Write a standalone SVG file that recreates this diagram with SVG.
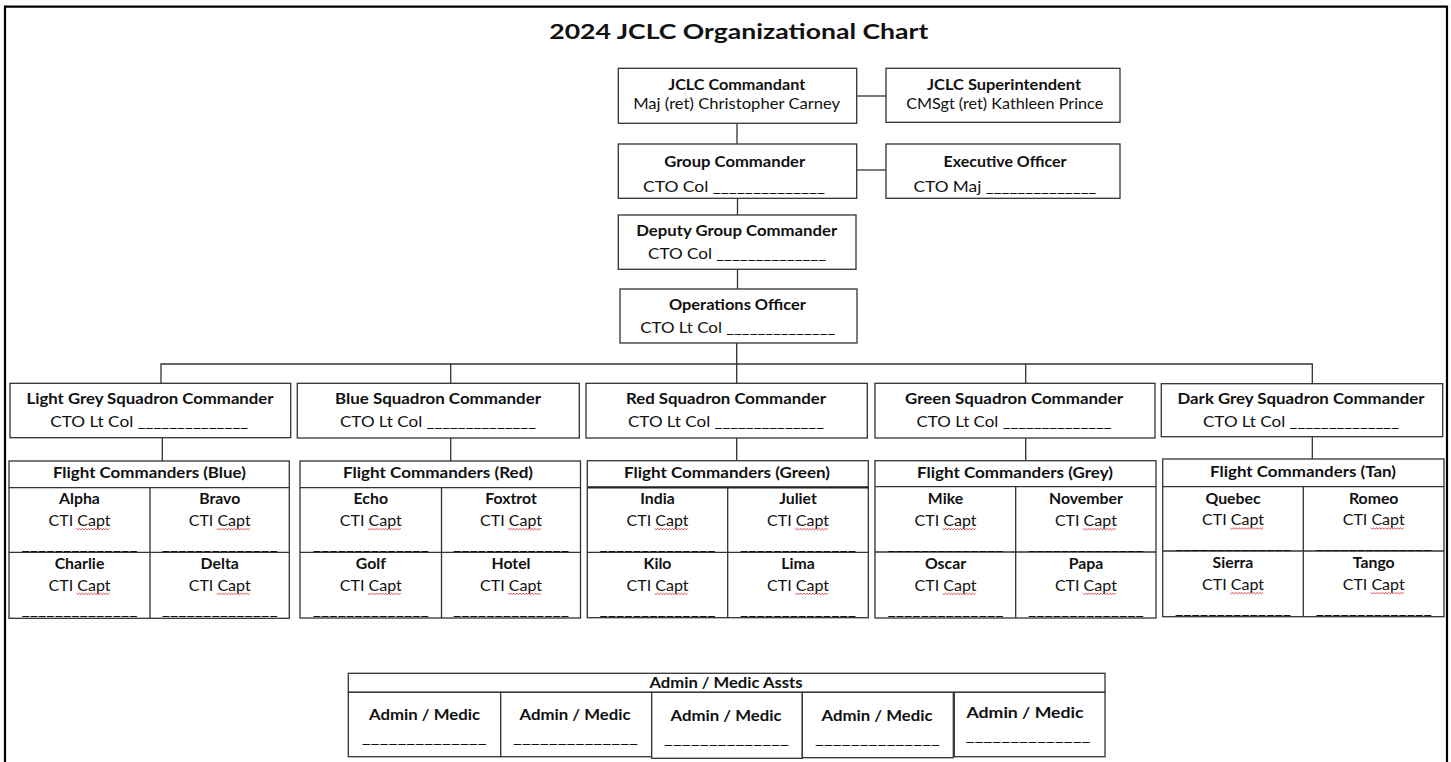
<svg xmlns="http://www.w3.org/2000/svg" xmlns:xlink="http://www.w3.org/1999/xlink" width="1451" height="762" viewBox="0 0 1451 762">
<style>
.bx{fill:#fff;stroke:#333;stroke-width:1.3}
.ln{fill:none;stroke:#333;stroke-width:1.3}
.cn{fill:none;stroke:#333;stroke-width:1.3}
.t{font-family:Lato,"Open Sans","Liberation Sans",sans-serif;font-size:15.8px;fill:#111;text-anchor:middle}
.b{font-weight:700}
.ttl{font-family:Lato,"Open Sans","Liberation Sans",sans-serif;font-size:21.5px;font-weight:700;fill:#111;text-anchor:middle}
.sq{fill:none;stroke:#e03a3a;stroke-width:0.9}
</style>
<defs>
<path id="sq" class="sq" d="M0,0 l1.5,1.3 l1.5,-1.3 l1.5,1.3 l1.5,-1.3 l1.5,1.3 l1.5,-1.3 l1.5,1.3 l1.5,-1.3 l1.5,1.3 l1.5,-1.3 l1.5,1.3 l1.5,-1.3 l1.5,1.3 l1.5,-1.3 l1.5,1.3 l1.5,-1.3 l1.5,1.3 l1.5,-1.3 l1.5,1.3 l1.5,-1.3 l1.5,1.3 l1.5,-1.3"/>
</defs>
<rect x="0" y="0" width="1451" height="762" fill="#fff"/>
<path d="M5,762 V6.7 H1447 V762" fill="none" stroke="#000" stroke-width="2.2"/>
<text class="ttl" x="738.8" y="39" textLength="379" lengthAdjust="spacingAndGlyphs">2024 JCLC Organizational Chart</text>

<g id="connectors">
<path class="cn" d="M857,96 H886"/>
<path class="cn" d="M857,170 H886"/>
<path class="cn" d="M737,123 V144 M737.5,198 V215 M737.5,269 V289 M736.7,343 V383.3"/>
<path class="cn" d="M161,383.3 V364 H1312.3 V383.7 M450.7,364 V383 M1025.7,364 V383"/>
<path class="cn" d="M162.3,437.7 V461 M450.7,438 V461 M736.7,438 V460.7 M1025.7,438 V460.7 M1312.3,436.7 V459"/>
</g>

<g id="commandant">
<rect class="bx" x="618.3" y="68.3" width="238.4" height="55"/>
<text class="t b" x="736.7" y="90" textLength="137" lengthAdjust="spacingAndGlyphs">JCLC Commandant</text>
<text class="t" x="736.7" y="109" textLength="207" lengthAdjust="spacingAndGlyphs">Maj (ret) Christopher Carney</text>
</g>
<g id="superintendent">
<rect class="bx" x="886" y="68.3" width="234" height="54"/>
<text class="t b" x="1004" y="90" textLength="154" lengthAdjust="spacingAndGlyphs">JCLC Superintendent</text>
<text class="t" x="1004.7" y="109" textLength="197" lengthAdjust="spacingAndGlyphs">CMSgt (ret) Kathleen Prince</text>
</g>
<g id="group-commander">
<rect class="bx" x="618.3" y="144" width="238.4" height="54.3"/>
<text class="t b" x="734.7" y="166.5" textLength="141" lengthAdjust="spacingAndGlyphs">Group Commander</text>
<text class="t" x="734" y="191.5" textLength="182" lengthAdjust="spacingAndGlyphs">CTO Col ______________</text>
</g>
<g id="executive-officer">
<rect class="bx" x="886" y="144" width="234" height="54.3"/>
<text class="t b" x="1005" y="166.5" textLength="123" lengthAdjust="spacingAndGlyphs">Executive Officer</text>
<text class="t" x="1005" y="191.5" textLength="183" lengthAdjust="spacingAndGlyphs">CTO Maj ______________</text>
</g>
<g id="deputy-group-commander">
<rect class="bx" x="618.3" y="215" width="237.7" height="54.3"/>
<text class="t b" x="736.7" y="236" textLength="201" lengthAdjust="spacingAndGlyphs">Deputy Group Commander</text>
<text class="t" x="737" y="258.7" textLength="178" lengthAdjust="spacingAndGlyphs">CTO Col ______________</text>
</g>
<g id="operations-officer">
<rect class="bx" x="620" y="289" width="237" height="54"/>
<text class="t b" x="737.4" y="310" textLength="137" lengthAdjust="spacingAndGlyphs">Operations Officer</text>
<text class="t" x="737.7" y="332.7" textLength="195" lengthAdjust="spacingAndGlyphs">CTO Lt Col ______________</text>
</g>

<g id="sq-light-grey">
<rect class="bx" x="10" y="383.3" width="280.7" height="54.4"/>
<text class="t b" x="150" y="404.3" textLength="247" lengthAdjust="spacingAndGlyphs">Light Grey Squadron Commander</text>
<text class="t" x="149.2" y="426.7" textLength="198" lengthAdjust="spacingAndGlyphs">CTO Lt Col ______________</text>
</g>
<g id="sq-blue">
<rect class="bx" x="297.3" y="383.3" width="282" height="54.7"/>
<text class="t b" x="438" y="404.3" textLength="206" lengthAdjust="spacingAndGlyphs">Blue Squadron Commander</text>
<text class="t" x="438" y="426.7" textLength="196" lengthAdjust="spacingAndGlyphs">CTO Lt Col ______________</text>
</g>
<g id="sq-red">
<rect class="bx" x="586" y="383.3" width="281.3" height="54.7"/>
<text class="t b" x="726" y="404.3" textLength="200" lengthAdjust="spacingAndGlyphs">Red Squadron Commander</text>
<text class="t" x="726" y="426.7" textLength="196" lengthAdjust="spacingAndGlyphs">CTO Lt Col ______________</text>
</g>
<g id="sq-green">
<rect class="bx" x="875" y="383.3" width="280" height="54.7"/>
<text class="t b" x="1014" y="404.3" textLength="218" lengthAdjust="spacingAndGlyphs">Green Squadron Commander</text>
<text class="t" x="1014" y="426.7" textLength="195" lengthAdjust="spacingAndGlyphs">CTO Lt Col ______________</text>
</g>
<g id="sq-dark-grey">
<rect class="bx" x="1161.3" y="383.7" width="281.4" height="53"/>
<text class="t b" x="1301" y="404.3" textLength="247" lengthAdjust="spacingAndGlyphs">Dark Grey Squadron Commander</text>
<text class="t" x="1301" y="426.7" textLength="196" lengthAdjust="spacingAndGlyphs">CTO Lt Col ______________</text>
</g>

<g id="flight-blue">
<rect class="bx" x="9" y="461" width="280.3" height="157.3"/>
<path class="ln" d="M9,487.7 H289.3 M150,487.7 V618.3 M9,552.3 H289.3"/>
<text class="t b" x="149.4" y="478.3" textLength="193" lengthAdjust="spacingAndGlyphs">Flight Commanders (Blue)</text>
<g id="alpha"><text class="t b" x="79.5" y="504.3">Alpha</text><text class="t" x="79.5" y="526" textLength="62" lengthAdjust="spacingAndGlyphs">CTI Capt</text><use href="#sq" x="76.5" y="528.5"/><text class="t" x="79.5" y="550.3" textLength="116" lengthAdjust="spacingAndGlyphs">______________</text></g>
<g id="bravo"><text class="t b" x="219.7" y="504.3">Bravo</text><text class="t" x="219.7" y="526" textLength="62" lengthAdjust="spacingAndGlyphs">CTI Capt</text><use href="#sq" x="216.7" y="528.5"/><text class="t" x="219.7" y="550.3" textLength="116" lengthAdjust="spacingAndGlyphs">______________</text></g>
<g id="charlie"><text class="t b" x="79.5" y="568.7">Charlie</text><text class="t" x="79.5" y="590.7" textLength="62" lengthAdjust="spacingAndGlyphs">CTI Capt</text><use href="#sq" x="76.5" y="593.2"/><text class="t" x="79.5" y="614.7" textLength="116" lengthAdjust="spacingAndGlyphs">______________</text></g>
<g id="delta"><text class="t b" x="219.7" y="568.7">Delta</text><text class="t" x="219.7" y="590.7" textLength="62" lengthAdjust="spacingAndGlyphs">CTI Capt</text><use href="#sq" x="216.7" y="593.2"/><text class="t" x="219.7" y="614.7" textLength="116" lengthAdjust="spacingAndGlyphs">______________</text></g>
</g>

<g id="flight-red">
<rect class="bx" x="300" y="461" width="280.5" height="157"/>
<path class="ln" d="M300,487.7 H580.5 M441.5,487.7 V618 M300,552.3 H580.5"/>
<text class="t b" x="438" y="478.3" textLength="190" lengthAdjust="spacingAndGlyphs">Flight Commanders (Red)</text>
<g id="echo"><text class="t b" x="370.8" y="504.3">Echo</text><text class="t" x="370.8" y="526" textLength="62" lengthAdjust="spacingAndGlyphs">CTI Capt</text><use href="#sq" x="367.8" y="528.5"/><text class="t" x="370.8" y="550.3" textLength="116" lengthAdjust="spacingAndGlyphs">______________</text></g>
<g id="foxtrot"><text class="t b" x="511" y="504.3">Foxtrot</text><text class="t" x="511" y="526" textLength="62" lengthAdjust="spacingAndGlyphs">CTI Capt</text><use href="#sq" x="508" y="528.5"/><text class="t" x="511" y="550.3" textLength="116" lengthAdjust="spacingAndGlyphs">______________</text></g>
<g id="golf"><text class="t b" x="370.8" y="568.7">Golf</text><text class="t" x="370.8" y="590.7" textLength="62" lengthAdjust="spacingAndGlyphs">CTI Capt</text><use href="#sq" x="367.8" y="593.2"/><text class="t" x="370.8" y="614.7" textLength="116" lengthAdjust="spacingAndGlyphs">______________</text></g>
<g id="hotel"><text class="t b" x="511" y="568.7">Hotel</text><text class="t" x="511" y="590.7" textLength="62" lengthAdjust="spacingAndGlyphs">CTI Capt</text><use href="#sq" x="508" y="593.2"/><text class="t" x="511" y="614.7" textLength="116" lengthAdjust="spacingAndGlyphs">______________</text></g>
</g>

<g id="flight-green">
<rect class="bx" x="587.3" y="460.7" width="281" height="157"/>
<path class="ln" d="M727.7,487.3 V617.7 M587.3,552.3 H868.3"/>
<path d="M587.3,487.3 H868.3" stroke="#222" stroke-width="2.2" fill="none"/>
<text class="t b" x="727" y="478.3" textLength="206" lengthAdjust="spacingAndGlyphs">Flight Commanders (Green)</text>
<g id="india"><text class="t b" x="657.5" y="504.3">India</text><text class="t" x="657.5" y="526" textLength="62" lengthAdjust="spacingAndGlyphs">CTI Capt</text><use href="#sq" x="654.5" y="528.5"/><text class="t" x="657.5" y="550.3" textLength="116" lengthAdjust="spacingAndGlyphs">______________</text></g>
<g id="juliet"><text class="t b" x="798" y="504.3">Juliet</text><text class="t" x="798" y="526" textLength="62" lengthAdjust="spacingAndGlyphs">CTI Capt</text><use href="#sq" x="795" y="528.5"/><text class="t" x="798" y="550.3" textLength="116" lengthAdjust="spacingAndGlyphs">______________</text></g>
<g id="kilo"><text class="t b" x="657.5" y="568.7">Kilo</text><text class="t" x="657.5" y="590.7" textLength="62" lengthAdjust="spacingAndGlyphs">CTI Capt</text><use href="#sq" x="654.5" y="593.2"/><text class="t" x="657.5" y="614.7" textLength="116" lengthAdjust="spacingAndGlyphs">______________</text></g>
<g id="lima"><text class="t b" x="798" y="568.7">Lima</text><text class="t" x="798" y="590.7" textLength="62" lengthAdjust="spacingAndGlyphs">CTI Capt</text><use href="#sq" x="795" y="593.2"/><text class="t" x="798" y="614.7" textLength="116" lengthAdjust="spacingAndGlyphs">______________</text></g>
</g>

<g id="flight-grey">
<rect class="bx" x="875" y="460.7" width="281" height="157.3"/>
<path class="ln" d="M875,486.7 H1156 M1015.7,486.7 V618 M875,552 H1156"/>
<text class="t b" x="1015" y="478.3" textLength="196" lengthAdjust="spacingAndGlyphs">Flight Commanders (Grey)</text>
<g id="mike"><text class="t b" x="945.5" y="504.3">Mike</text><text class="t" x="945.5" y="526" textLength="62" lengthAdjust="spacingAndGlyphs">CTI Capt</text><use href="#sq" x="942.5" y="528.5"/><text class="t" x="945.5" y="550.3" textLength="116" lengthAdjust="spacingAndGlyphs">______________</text></g>
<g id="november"><text class="t b" x="1085.9" y="504.3">November</text><text class="t" x="1085.9" y="526" textLength="62" lengthAdjust="spacingAndGlyphs">CTI Capt</text><use href="#sq" x="1082.9" y="528.5"/><text class="t" x="1085.9" y="550.3" textLength="116" lengthAdjust="spacingAndGlyphs">______________</text></g>
<g id="oscar"><text class="t b" x="945.5" y="568.7">Oscar</text><text class="t" x="945.5" y="590.7" textLength="62" lengthAdjust="spacingAndGlyphs">CTI Capt</text><use href="#sq" x="942.5" y="593.2"/><text class="t" x="945.5" y="614.7" textLength="116" lengthAdjust="spacingAndGlyphs">______________</text></g>
<g id="papa"><text class="t b" x="1085.9" y="568.7">Papa</text><text class="t" x="1085.9" y="590.7" textLength="62" lengthAdjust="spacingAndGlyphs">CTI Capt</text><use href="#sq" x="1082.9" y="593.2"/><text class="t" x="1085.9" y="614.7" textLength="116" lengthAdjust="spacingAndGlyphs">______________</text></g>
</g>

<g id="flight-tan">
<rect class="bx" x="1162.7" y="459" width="281.3" height="157.7"/>
<path class="ln" d="M1162.7,486.7 H1444 M1303.3,486.7 V616.7 M1162.7,551 H1444"/>
<text class="t b" x="1303" y="477.3" textLength="186" lengthAdjust="spacingAndGlyphs">Flight Commanders (Tan)</text>
<g id="quebec"><text class="t b" x="1233" y="503.5">Quebec</text><text class="t" x="1233" y="525.3" textLength="62" lengthAdjust="spacingAndGlyphs">CTI Capt</text><use href="#sq" x="1230" y="527.8"/><text class="t" x="1233" y="549.3" textLength="116" lengthAdjust="spacingAndGlyphs">______________</text></g>
<g id="romeo"><text class="t b" x="1373.7" y="503.5">Romeo</text><text class="t" x="1373.7" y="525.3" textLength="62" lengthAdjust="spacingAndGlyphs">CTI Capt</text><use href="#sq" x="1370.7" y="527.8"/><text class="t" x="1373.7" y="549.3" textLength="116" lengthAdjust="spacingAndGlyphs">______________</text></g>
<g id="sierra"><text class="t b" x="1233" y="567.7">Sierra</text><text class="t" x="1233" y="590" textLength="62" lengthAdjust="spacingAndGlyphs">CTI Capt</text><use href="#sq" x="1230" y="592.5"/><text class="t" x="1233" y="613.8" textLength="116" lengthAdjust="spacingAndGlyphs">______________</text></g>
<g id="tango"><text class="t b" x="1373.7" y="567.7">Tango</text><text class="t" x="1373.7" y="590" textLength="62" lengthAdjust="spacingAndGlyphs">CTI Capt</text><use href="#sq" x="1370.7" y="592.5"/><text class="t" x="1373.7" y="613.8" textLength="116" lengthAdjust="spacingAndGlyphs">______________</text></g>
</g>

<g id="admin-medic-assts">
<rect class="bx" x="348.3" y="673.3" width="756.7" height="19"/>
<text class="t b" x="726" y="688.3" textLength="153" lengthAdjust="spacingAndGlyphs">Admin / Medic Assts</text>
<g id="admin-1"><rect class="bx" x="348.3" y="692.3" width="152.4" height="64.4"/><text class="t b" x="424.6" y="720" textLength="111" lengthAdjust="spacingAndGlyphs">Admin / Medic</text><text class="t" x="424.2" y="742.5" textLength="125" lengthAdjust="spacingAndGlyphs">______________</text></g>
<g id="admin-2"><rect class="bx" x="500.7" y="692.3" width="151" height="64.4"/><text class="t b" x="575" y="720" textLength="111" lengthAdjust="spacingAndGlyphs">Admin / Medic</text><text class="t" x="575.5" y="742.5" textLength="125" lengthAdjust="spacingAndGlyphs">______________</text></g>
<g id="admin-3"><rect class="bx" x="651.7" y="692.3" width="150.6" height="66"/><text class="t b" x="726" y="720.5" textLength="111" lengthAdjust="spacingAndGlyphs">Admin / Medic</text><text class="t" x="726.5" y="743.5" textLength="125" lengthAdjust="spacingAndGlyphs">______________</text></g>
<g id="admin-4"><rect class="bx" x="802.3" y="692.3" width="151" height="65.4"/><text class="t b" x="877" y="720.5" textLength="111" lengthAdjust="spacingAndGlyphs">Admin / Medic</text><text class="t" x="877.5" y="743.5" textLength="125" lengthAdjust="spacingAndGlyphs">______________</text></g>
<g id="admin-5"><rect class="bx" x="954.3" y="692.3" width="150.7" height="64.4"/><text class="t b" x="1025" y="718.3" textLength="117" lengthAdjust="spacingAndGlyphs">Admin / Medic</text><text class="t" x="1028" y="741" textLength="125" lengthAdjust="spacingAndGlyphs">______________</text></g>
</g>
</svg>
